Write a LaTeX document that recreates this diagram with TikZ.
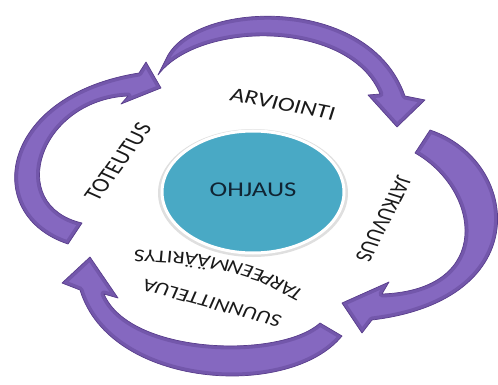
\documentclass[tikz,border=0pt]{standalone}
\usepackage{fontspec}
\setmainfont{Carlito}
\definecolor{cyclepurple}{HTML}{8568C0}
\definecolor{cycleedge}{HTML}{5A3F8C}
\definecolor{hubfill}{HTML}{49A9C5}
\definecolor{labelink}{HTML}{1A1A1A}
\definecolor{hubink}{HTML}{102433}
\tikzset{
  cyclearrow/.style={fill=cyclepurple, line join=round},
  bevel/.style={draw=cycleedge, line width=7pt, opacity=0.4, line join=round},
  rim/.style={draw=cycleedge, line width=0.7pt, line join=round},
  phase/.style={text=labelink, inner sep=0pt, transform shape, font=\fontsize{20}{24}\selectfont},
  bent/.style={phase, anchor=base west, font=\fontsize{18}{22}\selectfont},
}
\begin{document}
\begin{tikzpicture}[x=1pt, y=-1pt]
\useasboundingbox (0,0) rectangle (498,385);

% top arrow: tail on the left, head pointing down to the right
\path[cyclearrow, save path=\arrowtop] (158,75) -- (168,55)
  .. controls (200,0) and (370,-5) .. (405,96)
  -- (425,100) -- (397,127) -- (368,95) -- (380,94)
  .. controls (350,20) and (200,20) .. (158,75) -- cycle;

% right arrow: tail at the top, head pointing left at the bottom
\path[cyclearrow, save path=\arrowright] (415,153) -- (430,130)
  .. controls (520,160) and (538,300) .. (372,320)
  -- (362,333) -- (342,303) -- (389,282) -- (382,294)
  .. controls (494,290) and (480,190) .. (415,153) -- cycle;

% bottom arrow: tail on the right, head pointing up on the left
\path[cyclearrow, save path=\arrowbottom] (320,323) -- (342,336)
  .. controls (290,400) and (110,389) .. (80,290)
  -- (62,283) -- (90,257) -- (118,298) -- (104,294)
  .. controls (130,355) and (280,359) .. (320,323) -- cycle;

% left arrow: tail at the bottom, head pointing right at the top
\path[cyclearrow, save path=\arrowleft] (82,223) -- (68,244)
  .. controls (-20,215) and (-1,95) .. (139,73)
  -- (146,62) -- (161,88) -- (121,104) -- (128,96)
  .. controls (40,100) and (5,205) .. (82,223) -- cycle;

% darker rims inside each arrow give the bevelled look
\foreach \shape in {\arrowtop,\arrowright,\arrowbottom,\arrowleft}{
  \begin{scope}
    \clip[use path=\shape];
    \path[bevel, use path=\shape];
  \end{scope}
  \path[rim, use path=\shape];
}

% central hub
\fill[gray!25] (253,193) ellipse [x radius=95, y radius=64];
\filldraw[fill=hubfill, draw=white, line width=3pt] (253,192) ellipse [x radius=91, y radius=61];

% labels, set slightly wide
\begin{scope}[xscale=1.27]
  \node[phase, font=\fontsize{21}{25}\selectfont, text=hubink] (hub) at (199.2,190) {OHJAUS};
  \node[phase, rotate=-14] (arv) at (222.8,104) {ARVIOINTI};
  \node[phase, rotate=60] (tot) at (92.9,162) {TOTEUTUS};
  \node[phase, rotate=-112, font=\fontsize{19}{23}\selectfont] (jat) at (302,219) {JATKUVUUS};
  % the upside-down word bends around the hub, set in pieces
  \node[bent, rotate=146] (tar1) at (240.2,292) {TARP};
  \node[bent, rotate=158] (tar2) at (tar1.base east) {EEN};
  \node[bent, rotate=168] (tar3) at (tar2.base east) {MÄÄ};
  \node[bent, rotate=176] (tar4) at (tar3.base east) {RITYS};
  \node[phase, rotate=161, font=\fontsize{18}{22}\selectfont] (suu) at (166.9,303) {SUUNNITTELUA};
\end{scope}
\end{tikzpicture}
\end{document}
